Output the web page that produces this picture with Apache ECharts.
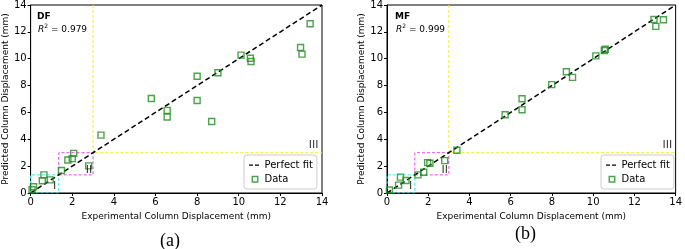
<!DOCTYPE html>
<html lang="en">
<head>
    <meta charset="UTF-8">
    <title>Column displacement</title>
    <style>
        html, body { margin: 0; padding: 0; background: #fff; }
        #chart { width: 685px; height: 249px; }
    </style>
    <script src="https://cdn.jsdelivr.net/npm/echarts/dist/echarts.min.js"></script>
</head>
<body>
    <div id="chart"></div>
    <script>
        // axis ticks (both axes, both panels)
        const axisTicks = [0, 2, 4, 6, 8, 10, 12, 14];

        // panel (a) DF
        const dfExperimental = [0.07, 0.14, 0.56, 0.64, 0.94, 1.48, 1.79, 2.0, 2.07, 2.79, 3.38, 5.8, 6.56, 6.56, 8.0, 8.0, 8.7, 9.0, 10.11, 10.56, 10.59, 12.97, 13.04, 13.43];
        const dfPredicted = [0.24, 0.47, 0.91, 1.35, 0.98, 1.67, 2.46, 2.56, 2.95, 2.02, 4.31, 7.04, 6.15, 5.66, 8.69, 6.89, 5.32, 8.96, 10.27, 10.04, 9.79, 10.83, 10.34, 12.6];

        // panel (b) MF
        const mfExperimental = [0.12, 0.56, 0.65, 0.92, 1.5, 1.78, 1.97, 2.08, 2.8, 3.39, 5.73, 6.55, 6.55, 7.99, 8.7, 9.0, 10.13, 10.54, 10.59, 12.95, 13.04, 13.41];
        const mfPredicted = [0.22, 0.59, 1.18, 0.93, 1.35, 1.55, 2.26, 2.21, 2.41, 3.18, 5.83, 7.02, 6.2, 8.07, 9.03, 8.61, 10.21, 10.61, 10.71, 12.92, 12.41, 12.9];

        const panelNames = ['DF', 'MF'];
        const r2Values = ['0.979', '0.999'];
        const captions = ['(a)', '(b)'];

        // region boxes (corners in data units) and their labels
        const regionI = [0, 1.35];
        const regionII = [1.35, 3];
        const regionIII = [3, 14];
        const regionLabels = ['I', 'II', 'III'];
        const regionLabelX = [1.15, 2.8, 13.6];
        const regionLabelY = [0.5, 1.7, 3.6];

        const perfectFit = [[0, 0], [14, 14]];

        const chart = echarts.init(document.getElementById('chart'));

        const grids = [
            { left: 29, top: 4, width: 293, height: 189 },
            { left: 387, top: 4, width: 292, height: 189 }
        ];

        function boxPath(r) {
            return [[r[0], r[0]], [r[1], r[0]], [r[1], r[1]], [r[0], r[1]], [r[0], r[0]]];
        }

        // legend icons: two short dashes, and a small open square
        const dashIcon = 'path://M0,0L0.01,0M0,7L0.01,7M0,3h4v1.3h-4zM6,3h4v1.3h-4z';
        const squareIcon = 'path://M0,0L0.01,0M0,7L0.01,7M2,1h5.5v5.5h-5.5z';

        const xAxes = [], yAxes = [], series = [], titles = [], legends = [], graphics = [];
        const expAll = [dfExperimental, mfExperimental];
        const predAll = [dfPredicted, mfPredicted];

        grids.forEach(function (g, i) {
            const axisBase = {
                gridIndex: i,
                type: 'value',
                min: axisTicks[0],
                max: axisTicks[axisTicks.length - 1],
                interval: axisTicks[1] - axisTicks[0],
                splitLine: { show: false },
                axisLine: { lineStyle: { color: '#000', width: 1 } },
                axisTick: { show: true, length: 3, lineStyle: { color: '#000' } },
                axisLabel: { color: '#000', fontSize: 10, fontFamily: 'DejaVu Sans', margin: 4 },
                nameLocation: 'middle',
                nameTextStyle: { color: '#000', fontSize: 9, fontFamily: 'DejaVu Sans' }
            };
            xAxes.push(Object.assign({}, axisBase, { name: 'Experimental Column Displacement (mm)', nameGap: 18 }));
            yAxes.push(Object.assign({}, axisBase, { name: 'Predicted Column Displacement (mm)', nameGap: 19 }));

            const boxes = [
                { path: boxPath(regionI), color: '#33eeee' },
                { path: boxPath(regionII), color: '#ee44ee' },
                { path: [[regionIII[0], regionIII[1]], [regionIII[0], regionIII[0]], [regionIII[1], regionIII[0]]], color: '#f2ee1a' }
            ];
            boxes.forEach(function (b) {
                series.push({
                    type: 'line', xAxisIndex: i, yAxisIndex: i, silent: true, symbol: 'none', z: 1,
                    data: b.path,
                    lineStyle: { color: b.color, width: 1, type: [3, 2] }
                });
            });

            series.push({
                name: 'Perfect fit', type: 'line', xAxisIndex: i, yAxisIndex: i, symbol: 'none', z: 3,
                data: perfectFit,
                lineStyle: { color: '#000', width: 1.5, type: [5, 3] },
                itemStyle: { color: '#000' }
            });

            series.push({
                name: 'Data', type: 'scatter', xAxisIndex: i, yAxisIndex: i, symbol: 'rect', symbolSize: 6, z: 4,
                data: expAll[i].map(function (x, k) { return [x, predAll[i][k]]; }),
                itemStyle: { color: 'rgba(255,255,255,0)', borderColor: '#1e8c1e', borderWidth: 1.4 }
            });

            series.push({
                type: 'scatter', xAxisIndex: i, yAxisIndex: i, symbolSize: 0, silent: true, z: 5,
                data: regionLabels.map(function (t, k) { return { name: t, value: [regionLabelX[k], regionLabelY[k]] }; }),
                label: { show: true, formatter: '{b}', position: 'inside', color: '#000', fontSize: 11, fontFamily: 'DejaVu Sans' }
            });

            titles.push({
                left: g.left + 3, top: g.top + 1,
                text: '{b|' + panelNames[i] + '}\n{i|R}{s|2}{n| = ' + r2Values[i] + '}',
                textStyle: {
                    fontWeight: 'normal',
                    rich: {
                        b: { fontSize: 9, fontWeight: 'bold', fontFamily: 'DejaVu Sans', color: '#000', lineHeight: 13 },
                        i: { fontSize: 9, fontWeight: 'normal', fontStyle: 'italic', fontFamily: 'DejaVu Sans', color: '#000', lineHeight: 13, padding: [0, 0, 0, 1] },
                        s: { fontSize: 6, fontWeight: 'normal', fontFamily: 'DejaVu Sans', color: '#000', verticalAlign: 'top', lineHeight: 13 },
                        n: { fontSize: 9, fontWeight: 'normal', fontFamily: 'DejaVu Sans', color: '#000', lineHeight: 13 }
                    }
                }
            });

            legends.push({
                left: g.left + g.width - 78, top: 155,
                orient: 'vertical',
                data: [
                    { name: 'Perfect fit', icon: dashIcon, itemStyle: { color: '#000', borderWidth: 0 } },
                    { name: 'Data', icon: squareIcon, itemStyle: { color: 'rgba(255,255,255,0)', borderColor: '#1e8c1e', borderWidth: 1.4 } }
                ],
                itemWidth: 11, itemHeight: 7, itemGap: 4, itemStyle: {},
                padding: [5, 4, 5, 5],
                borderColor: '#cccccc', borderWidth: 1, borderRadius: 3,
                backgroundColor: 'rgba(255,255,255,0.85)',
                textStyle: { fontSize: 10, fontFamily: 'DejaVu Sans', color: '#000' }
            });
        });

        graphics.push({ type: 'text', left: 160, top: 232, style: { text: captions[0], font: '18px "Liberation Serif"', fill: '#000' } });
        graphics.push({ type: 'text', left: 515, top: 225, style: { text: captions[1], font: '18px "Liberation Serif"', fill: '#000' } });

        chart.setOption({
            animation: false,
            grid: grids.map(function (g) { return Object.assign({ show: true, borderColor: '#000', borderWidth: 1, containLabel: false }, g); }),
            xAxis: xAxes,
            yAxis: yAxes,
            title: titles,
            legend: legends,
            graphic: graphics,
            series: series
        });
    </script>
</body>
</html>
